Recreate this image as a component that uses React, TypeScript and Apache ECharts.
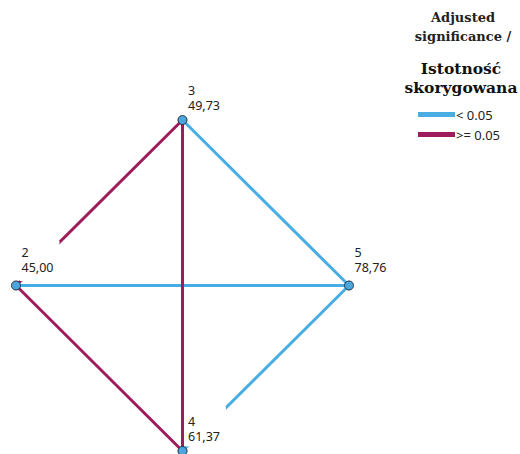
import React, { useEffect, useRef } from "react";
import * as echarts from "echarts";

const nodeIds = ["3", "2", "5", "4"];
const nodeMeans = ["49,73", "45,00", "78,76", "61,37"];
const nodeX = [0, -1, 1, 0];
const nodeY = [1, 0, 0, -1];
const sigEdges: [string, string][] = [["3", "5"], ["2", "5"], ["5", "4"]];
const nonSigEdges: [string, string][] = [["3", "2"], ["3", "4"], ["2", "4"]];
const legendNames = ["< 0.05", ">= 0.05"];
const titleLines = ["Adjusted", "significance /"];
const subtitleLines = ["Istotność", "skorygowana"];

const BLUE = "#48ade3";
const MAROON = "#9e1c5b";

function coordOf(id: string): [number, number] {
  const i = nodeIds.indexOf(id);
  return [nodeX[i], nodeY[i]];
}

export default function App() {
  const ref = useRef<HTMLDivElement>(null);
  useEffect(() => {
    if (!ref.current) return;
    const chart = echarts.init(ref.current, null, { renderer: "svg" });
    const edgeData = (edges: [string, string][]) =>
      edges.map(([a, b]) => ({ coords: [coordOf(a), coordOf(b)] }));
    chart.setOption({
      animation: false,
      backgroundColor: "#fff",
      grid: { left: 16, right: 171, top: 120, bottom: 3, containLabel: false },
      xAxis: { type: "value", min: -1, max: 1, show: false },
      yAxis: { type: "value", min: -1, max: 1, show: false },
      legend: {
        orient: "vertical",
        left: 413,
        top: 103,
        icon: "rect",
        itemWidth: 35,
        itemHeight: 3,
        itemGap: 7,
        selectedMode: false,
        textStyle: { fontFamily: "Noto Sans", fontSize: 13, color: "#222", padding: [0, 0, 0, -3] },
        data: [
          { name: legendNames[0], itemStyle: { color: BLUE } },
          { name: legendNames[1], itemStyle: { color: MAROON } },
        ],
      },
      graphic: [
        {
          type: "text",
          x: 463,
          y: 8,
          style: {
            text: titleLines.join("\n"),
            align: "center",
            font: "bold 13px 'DejaVu Serif'",
            lineHeight: 19,
            fill: "#222",
          },
        },
        {
          type: "text",
          x: 461,
          y: 59,
          style: {
            text: subtitleLines.join("\n"),
            align: "center",
            font: "bold 15.5px 'DejaVu Serif'",
            lineHeight: 19,
            fill: "#111",
          },
        },
      ],
      series: [
        {
          type: "lines",
          name: legendNames[0],
          coordinateSystem: "cartesian2d",
          z: 2,
          silent: true,
          lineStyle: { color: BLUE, width: 3, opacity: 1, curveness: 0 },
          data: edgeData(sigEdges),
        },
        {
          type: "lines",
          name: legendNames[1],
          coordinateSystem: "cartesian2d",
          z: 2,
          silent: true,
          lineStyle: { color: MAROON, width: 3, opacity: 1, curveness: 0 },
          data: edgeData(nonSigEdges),
        },
        {
          type: "scatter",
          z: 3,
          clip: false,
          symbol: "circle",
          symbolSize: 9,
          itemStyle: { color: "#4aa6dc", borderColor: "#1e2f3c", borderWidth: 1, opacity: 1 },
          label: {
            show: true,
            position: [8.5, -39.5],
            align: "left",
            verticalAlign: "top",
            backgroundColor: "#fff",
            width: 36,
            height: 30,
            lineHeight: 15,
            fontFamily: "Noto Sans",
            fontSize: 12.5,
            color: "#222",
            formatter: (p: any) => `${nodeIds[p.dataIndex]}\n${nodeMeans[p.dataIndex]}`,
          },
          data: nodeIds.map((id, i) => {
            const vertical = nodeY[i] !== 0;
            return {
              name: id,
              value: [nodeX[i], nodeY[i]],
              label: { padding: vertical ? [7, 2, 3, 2] : [4, 2, 6, 2] },
            };
          }),
        },
      ],
    });
    return () => chart.dispose();
  }, []);
  return (
    <div
      ref={ref}
      style={{ position: "fixed", left: 0, top: 0, width: 520, height: 454 }}
    />
  );
}
